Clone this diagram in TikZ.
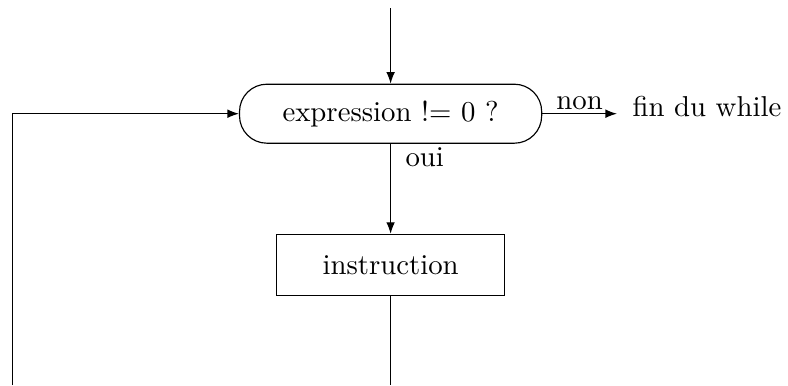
\documentclass[tikz,border=0pt]{standalone}
\usetikzlibrary{arrows.meta}
\begin{document}
\begin{tikzpicture}[x=0.3475pt,y=-0.3475pt,
  conn/.style={line width=0.4pt},
  arr/.style={conn,-{Latex[length=4pt,width=3pt]}},
  condbox/.style={draw,rounded corners=9.5pt,minimum width=105pt,minimum height=20.5pt,inner sep=0pt},
  instrbox/.style={draw,minimum width=79.3pt,minimum height=21.3pt,inner sep=0pt},
  lbl/.style={inner sep=0pt,anchor=base west}]
\useasboundingbox (0,0) rectangle (788,385);
\coordinate (top) at (390.6,8);
\node[condbox] (cond) at (390.6,113.7) {expression != 0 ?};
\node[instrbox] (instr) at (390.6,265) {instruction};
\coordinate (endarrow) at (617,113.7);
\node[lbl] (fin) at (632,116.5) {fin du while};
\coordinate (bot) at (390.6,385);
\coordinate (loopbot) at (12.7,385);
\coordinate (looptop) at (12.7,113.7);
\draw[arr] (top) -- (cond.north);
\draw[arr] (cond.east) -- node[above=0.5pt,inner sep=0.5pt] (non) {non} (endarrow);
\draw[arr] (cond.south) -- (instr.north);
\node[lbl] (oui) at (405,166) {oui};
\draw[conn] (instr.south) -- (bot);
\draw[arr] (loopbot) -- (looptop) -- (cond.west);
\end{tikzpicture}
\end{document}
